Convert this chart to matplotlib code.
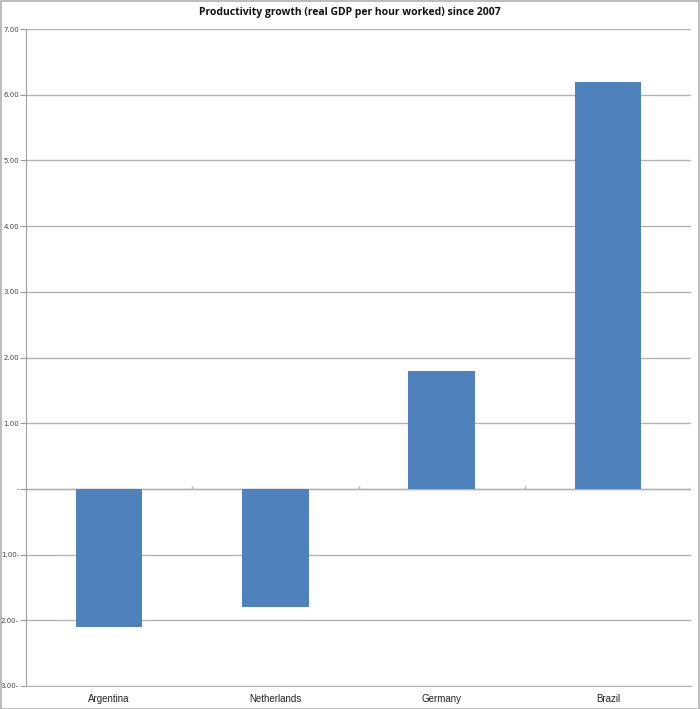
import matplotlib
matplotlib.use("Agg")
import matplotlib.pyplot as plt
from matplotlib.patches import Rectangle
from matplotlib.ticker import FixedLocator, FuncFormatter

categories = ["Argentina", "Netherlands", "Germany", "Brazil"]
values = [-2.1, -1.8, 1.8, 6.2]
yticks = [-3, -2, -1, 0, 1, 2, 3, 4, 5, 6, 7]

W, H = 700, 709
fig = plt.figure(figsize=(W / 100, H / 100), dpi=100)
fig.patch.set_facecolor("white")
fig.patches.append(Rectangle((0.5 / W, 0.5 / H), 1 - 1.5 / W, 1 - 1.5 / H,
                             transform=fig.transFigure, fill=False,
                             edgecolor="#b0b0b0", linewidth=1.2))

left, right, top, bottom = 26, 691, 29, 686
ax = fig.add_axes([left / W, 1 - bottom / H, (right - left) / W, (bottom - top) / H])

x = list(range(len(categories)))
ax.bar(x, values, width=0.4, color="#4f81bd", zorder=3)

ax.set_xlim(-0.5, len(categories) - 0.5)
ax.set_ylim(-3, 7)

ax.yaxis.set_major_locator(FixedLocator(yticks))

def fmt(v, pos):
    if abs(v) < 1e-9:
        return "-"
    if v < 0:
        return f"{abs(v):.2f}-"
    return f"{v:.2f}"

ax.yaxis.set_major_formatter(FuncFormatter(fmt))
ax.grid(axis="y", color="#b3b3b3", linewidth=1, zorder=0)
ax.set_axisbelow(True)

ax.set_xticks(x)
ax.set_xticklabels(categories, fontsize=7, color="#222222", family="Liberation Sans")
ax.tick_params(axis="x", length=0, pad=6)
ax.tick_params(axis="y", labelsize=5, colors="#444444", length=4, width=0.8,
               pad=1, color="#999999")

for s in ["top", "right"]:
    ax.spines[s].set_visible(False)
ax.spines["left"].set_color("#a0a0a0")
ax.spines["bottom"].set_color("#b3b3b3")

# zero axis line with category separator ticks
ax.axhline(0, color="#b3b3b3", linewidth=1, zorder=2)
boundaries = [i + 0.5 for i in range(len(categories))]
ax.vlines(boundaries, 0, 0.05, color="#b3b3b3", linewidth=1, zorder=2)

fig.text(0.5, 1 - 13 / H, "Productivity growth (real GDP per hour worked) since 2007",
         ha="center", va="center", fontsize=7.5, fontweight="bold",
         family="Open Sans", color="#111111")

fig.savefig("out.png", dpi=100, facecolor="white")
